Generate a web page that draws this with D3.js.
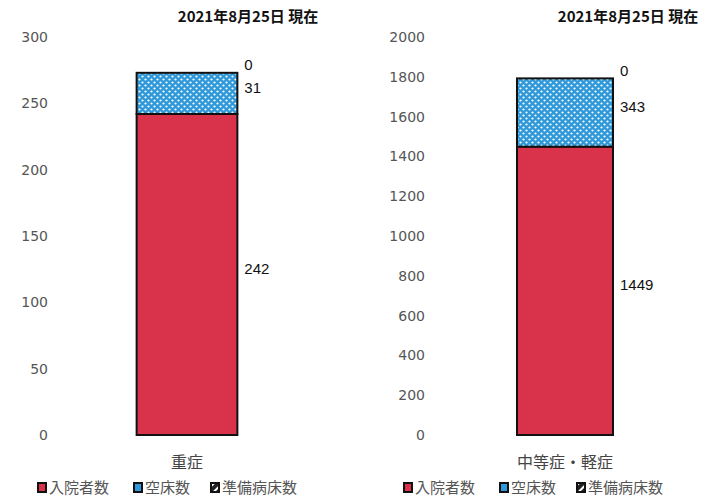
<!DOCTYPE html>
<html>
<head>
<meta charset="utf-8">
<script src="https://cdn.jsdelivr.net/npm/d3@7"></script>
<style>
  body { margin: 0; background: #fff; }
  svg { display: block; }
</style>
</head>
<body>
<div id="chart"></div>
<script>
// data
const titleText = "2021年8月25日 現在";
const categories = ["重症", "中等症・軽症"];
const admitted = [242, 1449];   // 入院者数
const vacant = [31, 343];       // 空床数
const prepared = [0, 0];        // 準備病床数
const yMax = [300, 2000];
const yStep = [50, 200];
const seriesNames = ["入院者数", "空床数", "準備病床数"];

const width = 721, height = 502;
const red = "#d8334b", blue = "#2f98d8";

// panel layout (left, right)
const panels = [
  { x0: 52, x1: 322, axisX: 48, pad: 0.84, titleX: 248, legendX: 37 },
  { x0: 432, x1: 698, axisX: 425, pad: 0.885, titleX: 628, legendX: 403 }
];
const yTop = 37, yBottom = 435;

const svg = d3.select("#chart").append("svg")
  .attr("width", width)
  .attr("height", height);

const defs = svg.append("defs");
const dots = defs.append("pattern")
  .attr("id", "dots")
  .attr("patternUnits", "userSpaceOnUse")
  .attr("width", 6)
  .attr("height", 6);
dots.append("rect").attr("width", 6).attr("height", 6).attr("fill", blue);
dots.append("circle").attr("cx", 1.5).attr("cy", 1.5).attr("r", 1.1).attr("fill", "#fff");
dots.append("circle").attr("cx", 4.5).attr("cy", 4.5).attr("r", 1.1).attr("fill", "#fff");

const stripes = defs.append("pattern")
  .attr("id", "stripes")
  .attr("patternUnits", "userSpaceOnUse")
  .attr("width", 6)
  .attr("height", 6)
  .attr("patternTransform", "rotate(45)");
stripes.append("rect").attr("width", 6).attr("height", 6).attr("fill", "#222");
stripes.append("rect").attr("width", 2).attr("height", 6).attr("fill", "#fff");

const fills = [red, "url(#dots)", "url(#stripes)"];

categories.forEach(function (cat, i) {
  const p = panels[i];
  const g = svg.append("g");

  const x = d3.scaleBand().domain([cat]).range([p.x0, p.x1]).paddingOuter(p.pad).paddingInner(0);
  const y = d3.scaleLinear().domain([0, yMax[i]]).range([yBottom, yTop]);

  // title
  g.append("text")
    .attr("x", p.titleX)
    .attr("y", 22)
    .attr("text-anchor", "middle")
    .attr("font-family", "'Noto Sans CJK JP', sans-serif")
    .attr("font-weight", "bold")
    .attr("font-size", 15)
    .attr("fill", "#111")
    .text(titleText);

  // y axis labels, no lines
  const yAxis = d3.axisLeft(y)
    .tickValues(d3.range(0, yMax[i] + 1, yStep[i]))
    .tickFormat(d3.format("d"))
    .tickSize(0)
    .tickPadding(0);
  const ax = g.append("g")
    .attr("transform", "translate(" + p.axisX + ",0)")
    .call(yAxis);
  ax.select(".domain").remove();
  ax.selectAll("text")
    .attr("font-family", "'DejaVu Sans', sans-serif")
    .attr("font-size", 14)
    .attr("fill", "#555");

  // stacked segments
  const stack = [
    { v: admitted[i], y0: 0 },
    { v: vacant[i], y0: admitted[i] },
    { v: prepared[i], y0: admitted[i] + vacant[i] }
  ];
  stack.forEach(function (s, k) {
    if (s.v > 0) {
      g.append("rect")
        .attr("x", x(cat))
        .attr("width", x.bandwidth())
        .attr("y", y(s.y0 + s.v))
        .attr("height", y(s.y0) - y(s.y0 + s.v))
        .attr("fill", fills[k])
        .attr("stroke", "#111")
        .attr("stroke-width", 2);
    }
    // value label to the right of the segment
    let ly = s.v > 0 ? y(s.y0 + s.v / 2) - 6 : y(s.y0) - 8;
    g.append("text")
      .attr("x", x(cat) + x.bandwidth() + 7)
      .attr("y", ly)
      .attr("dy", "0.35em")
      .attr("font-family", "'Liberation Sans Narrow', 'Liberation Sans', sans-serif")
      .attr("font-size", 15)
      .attr("fill", "#111")
      .text(s.v);
  });

  // category label
  g.append("text")
    .attr("x", x(cat) + x.bandwidth() / 2)
    .attr("y", 468)
    .attr("text-anchor", "middle")
    .attr("font-family", "'Noto Sans CJK JP', sans-serif")
    .attr("font-size", 16)
    .attr("fill", "#444")
    .text(cat);

  // legend
  const offsets = [0, 96, 173];
  seriesNames.forEach(function (name, k) {
    const lx = p.legendX + offsets[k];
    g.append("rect")
      .attr("x", lx + 1)
      .attr("y", 483)
      .attr("width", 8)
      .attr("height", 9)
      .attr("fill", k === 2 ? "url(#stripes)" : (k === 1 ? blue : red))
      .attr("stroke", "#111")
      .attr("stroke-width", 2);
    g.append("text")
      .attr("x", lx + 12)
      .attr("y", 493)
      .attr("font-family", "'Noto Sans CJK JP', sans-serif")
      .attr("font-size", 15)
      .attr("fill", "#555")
      .text(name);
  });
});
</script>
</body>
</html>
